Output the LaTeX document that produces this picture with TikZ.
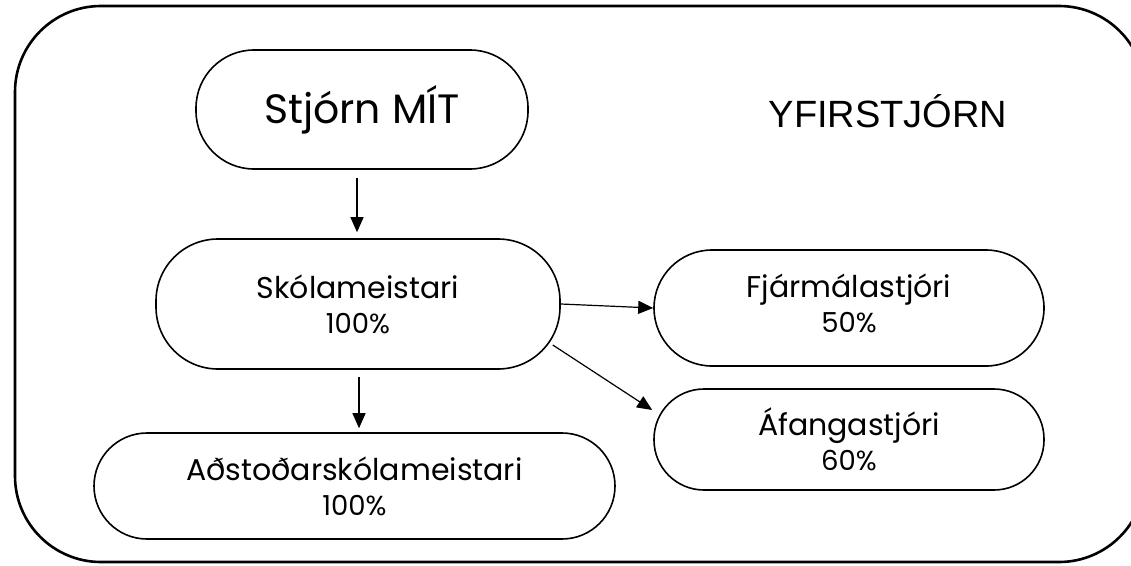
\documentclass[tikz,border=0pt]{standalone}
\usepackage{fontspec}
\setmainfont{Poppins}
\newfontfamily\yfont{Liberation Sans}
\usetikzlibrary{arrows.meta,calc}
\begin{document}
\begin{tikzpicture}[x=1pt,y=-1pt,
  box/.style={draw, line width=1.6pt, inner sep=0pt, align=center, font=\fontsize{30}{35}\selectfont},
  arr/.style={line width=1.2pt, -{Triangle[length=15pt,width=13pt]}}]
\useasboundingbox (0,0) rectangle (1131,565);
\clip (0,0) rectangle (1131,565);
\node[draw, line width=2.6pt, rounded corners=86pt, minimum width=1130pt, minimum height=556pt] (frame) at (580,284) {};
\node[box, rounded corners=58pt, minimum width=332pt, minimum height=119pt, font=\fontsize{41}{48}\selectfont] (stjorn) at (362,109.5) {Stjórn MÍT};
\node[font=\yfont\fontsize{38}{44}\selectfont] (yfir) at (888,111) {YFIRSTJÓRN};
\node[box, rounded corners=62pt, minimum width=404pt, minimum height=130pt] (skol) at (358,304) {Skólameistari\\{\fontsize{27.5}{35}\selectfont 100\%}};
\node[box, rounded corners=53pt, minimum width=521pt, minimum height=106pt] (adst) at (354.5,486) {Aðstoðarskólameistari\\{\fontsize{27.5}{35}\selectfont 100\%}};
\node[box, rounded corners=58pt, minimum width=390pt, minimum height=116pt] (fjar) at (849,308) {\raisebox{-5pt}{\begin{tabular}{@{}c@{}}Fjármálastjóri\\{\fontsize{27.5}{35}\selectfont 50\%}\end{tabular}}};
\node[box, rounded corners=50pt, minimum width=390pt, minimum height=101pt] (afang) at (849,439.5) {Áfangastjóri\\{\fontsize{27.5}{35}\selectfont 60\%}};
\draw[arr] ($(stjorn.south)+(-5,8)$) -- ($(skol.north)+(-1,-6)$);
\draw[arr] ($(skol.south)+(1,7)$) -- ($(adst.north)+(4.5,-4)$);
\draw[arr] (skol.east) -- (fjar.west);
\draw[arr] ($(skol.east)+(-8,41)$) -- ($(afang.west)+(-1,-29.5)$);
\end{tikzpicture}
\end{document}
